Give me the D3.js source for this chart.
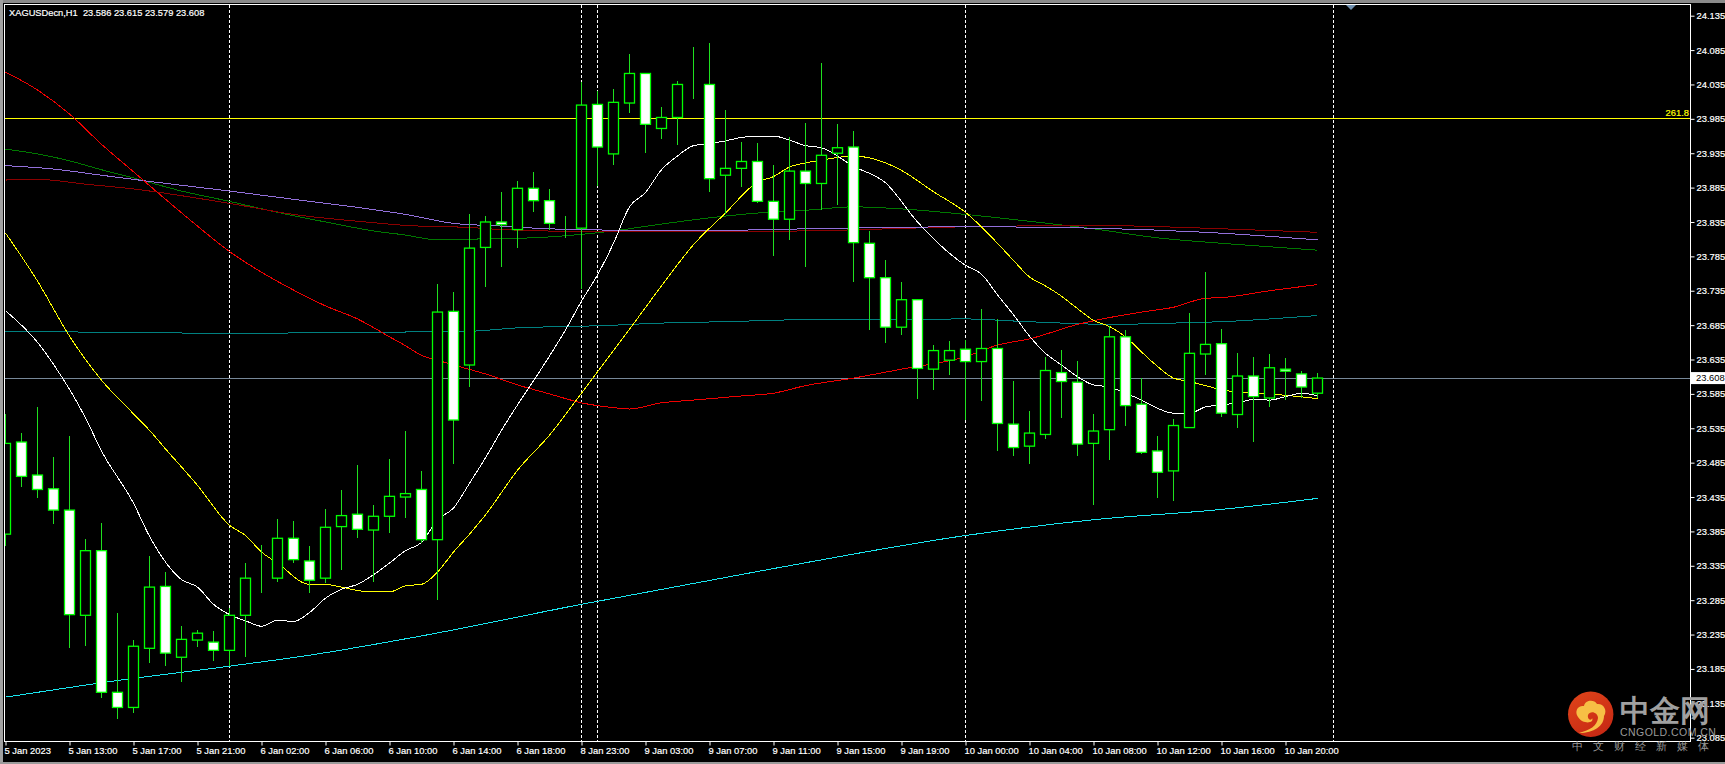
<!DOCTYPE html>
<html><head><meta charset="utf-8">
<script src="https://cdn.jsdelivr.net/npm/d3@7"></script>
<style>
html,body{margin:0;padding:0;background:#000;overflow:hidden}
svg{display:block}
text{font-family:"Liberation Sans",Arial,sans-serif}
</style></head><body>
<svg id="c" width="1725" height="764"></svg>
<script>
const title = "XAGUSDecn,H1  23.586 23.615 23.579 23.608";
const opens = [23.381,23.515,23.467,23.447,23.416,23.263,23.357,23.151,23.129,23.215,23.305,23.202,23.227,23.224,23.212,23.263,23.317,23.317,23.375,23.342,23.317,23.392,23.410,23.387,23.407,23.435,23.446,23.373,23.705,23.627,23.798,23.835,23.824,23.884,23.866,23.834,23.826,24.006,23.934,24.008,24.051,23.971,23.987,24.035,24.035,23.903,23.913,23.923,23.865,23.839,23.909,23.891,23.935,23.944,23.804,23.754,23.682,23.722,23.621,23.634,23.650,23.632,23.651,23.541,23.509,23.526,23.616,23.602,23.513,23.533,23.668,23.570,23.502,23.473,23.536,23.643,23.658,23.555,23.611,23.579,23.621,23.614,23.586];
const highs = [23.556,23.528,23.566,23.493,23.524,23.374,23.397,23.266,23.227,23.349,23.326,23.247,23.242,23.240,23.273,23.339,23.365,23.403,23.400,23.364,23.418,23.445,23.482,23.423,23.490,23.531,23.473,23.745,23.733,23.847,23.844,23.879,23.895,23.908,23.883,23.844,24.038,24.026,24.028,24.079,24.052,24.002,24.040,24.090,24.095,23.998,23.951,23.950,23.918,23.959,23.979,24.066,23.978,23.967,23.822,23.780,23.748,23.723,23.656,23.662,23.663,23.708,23.694,23.604,23.560,23.639,23.649,23.633,23.556,23.684,23.678,23.608,23.524,23.548,23.703,23.762,23.680,23.645,23.639,23.643,23.637,23.618,23.615];
const lows = [23.364,23.450,23.433,23.396,23.216,23.219,23.143,23.112,23.121,23.194,23.190,23.166,23.217,23.196,23.189,23.202,23.295,23.311,23.339,23.296,23.310,23.329,23.376,23.312,23.382,23.405,23.368,23.285,23.483,23.595,23.741,23.770,23.797,23.850,23.824,23.812,23.738,23.887,23.918,23.994,23.936,23.955,23.947,24.014,23.879,23.846,23.886,23.863,23.785,23.809,23.770,23.852,23.860,23.748,23.678,23.659,23.670,23.577,23.591,23.613,23.547,23.575,23.502,23.495,23.483,23.520,23.550,23.494,23.423,23.489,23.539,23.498,23.434,23.429,23.535,23.613,23.552,23.535,23.515,23.566,23.576,23.579,23.579];
const closes = [23.513,23.465,23.446,23.416,23.264,23.357,23.151,23.129,23.218,23.304,23.208,23.228,23.237,23.212,23.263,23.317,23.317,23.375,23.344,23.314,23.391,23.408,23.388,23.407,23.436,23.440,23.373,23.704,23.547,23.797,23.835,23.831,23.884,23.866,23.833,23.834,24.005,23.944,24.009,24.051,23.977,23.987,24.035,24.035,23.898,23.913,23.923,23.865,23.839,23.909,23.891,23.932,23.943,23.805,23.754,23.682,23.722,23.622,23.648,23.648,23.632,23.651,23.542,23.507,23.528,23.619,23.603,23.512,23.531,23.668,23.568,23.500,23.471,23.539,23.644,23.657,23.557,23.611,23.581,23.623,23.618,23.595,23.608];

const whiteIdx = [0,2,3,5,6,8,9,11,12,13,14,15,16,17,18,19,20,21,22,23,24,25,26,27,28,29,30,31,32,33,34,35,36,37,38,39,40,41,42,43,44,45,46,47,48,49,50,51,53,55,57,60,61,62,63,64,65,66,67,68,69,70,71,72,73,74,75,76,77,78,79,80,81,82];
const whiteVal = [23.706,23.660,23.628,23.550,23.502,23.426,23.378,23.315,23.304,23.279,23.264,23.255,23.247,23.256,23.254,23.267,23.288,23.301,23.308,23.322,23.339,23.357,23.369,23.402,23.419,23.455,23.492,23.532,23.569,23.604,23.640,23.678,23.720,23.758,23.804,23.857,23.878,23.911,23.931,23.946,23.949,23.953,23.958,23.960,23.960,23.954,23.946,23.943,23.916,23.892,23.835,23.772,23.759,23.729,23.700,23.669,23.644,23.627,23.610,23.598,23.595,23.586,23.576,23.564,23.557,23.557,23.566,23.569,23.572,23.577,23.576,23.581,23.586,23.582];
const yellowIdx = [0,2,4,6,8,9,10,12,14,15,16,17,19,20,21,22,23,24,25,26,27,28,29,30,32,34,36,37,39,41,43,45,47,48,49,50,51,53,55,56,58,60,62,63,64,65,66,67,68,69,70,71,72,73,74,75,76,78,80,82];
const yellowVal = [23.819,23.749,23.669,23.605,23.556,23.532,23.505,23.452,23.394,23.379,23.355,23.339,23.308,23.308,23.304,23.299,23.297,23.297,23.306,23.308,23.326,23.355,23.381,23.409,23.474,23.525,23.586,23.617,23.679,23.742,23.802,23.848,23.893,23.901,23.915,23.921,23.925,23.931,23.921,23.910,23.879,23.849,23.804,23.779,23.755,23.742,23.727,23.709,23.692,23.683,23.668,23.646,23.625,23.608,23.603,23.597,23.591,23.586,23.583,23.578];
const redIdx = [0,2,4,6,8,10,12,14,16,18,20,22,24,25,26,27,28,30,32,34,36,38,39,41,43,46,48,50,53,56,60,62,64,67,69,71,73,75,76,79,82];
const redVal = [24.053,24.027,23.992,23.948,23.908,23.868,23.829,23.792,23.762,23.736,23.713,23.694,23.668,23.655,23.641,23.634,23.627,23.614,23.598,23.585,23.572,23.565,23.563,23.572,23.576,23.582,23.586,23.597,23.608,23.621,23.639,23.656,23.665,23.686,23.696,23.704,23.711,23.724,23.725,23.735,23.744];
const tealIdx = [0,14,20,25,29,32,35,37,41,45,50,60,63,66,69,73,76,82];
const tealVal = [23.676,23.673,23.674,23.675,23.676,23.681,23.683,23.684,23.688,23.690,23.693,23.694,23.691,23.688,23.686,23.688,23.690,23.699];
const cyanIdx = [0,6,14,19,26,36,48,60,68,76,82];
const cyanVal = [23.144,23.165,23.189,23.205,23.233,23.279,23.331,23.379,23.402,23.417,23.433];
const greenIdx = [0,2,4,6,8,11,14,17,20,23,25,27,29,31,33,36,38,41,44,47,50,53,56,60,64,68,72,76,82];
const greenVal = [23.941,23.934,23.924,23.911,23.899,23.880,23.865,23.849,23.835,23.822,23.816,23.809,23.810,23.811,23.812,23.817,23.822,23.832,23.841,23.848,23.852,23.857,23.854,23.846,23.836,23.825,23.812,23.804,23.794];
const purpleIdx = [0,3,6,9,14,18,23,25,28,31,34,39,45,50,60,68,75,82];
const purpleVal = [23.917,23.912,23.903,23.894,23.880,23.868,23.853,23.846,23.833,23.829,23.825,23.823,23.823,23.825,23.828,23.826,23.820,23.809];
const maroonIdx = [0,2,5,8,14,18,23,25,29,31,37,45,50,60,68,75,82];
const maroonVal = [23.896,23.897,23.890,23.883,23.862,23.846,23.834,23.830,23.827,23.824,23.821,23.821,23.822,23.828,23.830,23.826,23.820];

const priceTicks = ["24.135","24.085","24.035","23.985","23.935","23.885","23.835","23.785","23.735","23.685","23.635","23.585","23.535","23.485","23.435","23.385","23.335","23.285","23.235","23.185","23.135","23.085"];
const timeLabels = ["5 Jan 2023","5 Jan 13:00","5 Jan 17:00","5 Jan 21:00","6 Jan 02:00","6 Jan 06:00","6 Jan 10:00","6 Jan 14:00","6 Jan 18:00","8 Jan 23:00","9 Jan 03:00","9 Jan 07:00","9 Jan 11:00","9 Jan 15:00","9 Jan 19:00","10 Jan 00:00","10 Jan 04:00","10 Jan 08:00","10 Jan 12:00","10 Jan 16:00","10 Jan 20:00"];
const timeIdx = [0,4,8,12,16,20,24,28,32,36,40,44,48,52,56,60,64,68,72,76,80];
const separators = [14,36,37,60,83];
const fibLevel = 23.985, fibLabel = "261.8", lastPrice = 23.608;

const svg = d3.select("#c");
const L=4.5,T=4.5,R=1690.5,B=741.5;
const x = d3.scaleLinear().domain([0,82]).range([5.5,1317.5]);
const y = d3.scaleLinear().domain([23.085,24.135]).range([737.7,15.7]);
const FS = 9.4;

svg.append("rect").attr("width",1725).attr("height",764).attr("fill","#000");
svg.append("rect").attr("x",0).attr("y",0).attr("width",1725).attr("height",3).attr("fill","#8a8a8a");
svg.append("rect").attr("x",0).attr("y",0).attr("width",3).attr("height",764).attr("fill","#a0a0a0");
svg.append("rect").attr("x",0).attr("y",762).attr("width",1725).attr("height",2).attr("fill","#9a9a9a");

svg.append("clipPath").attr("id","plot").append("rect").attr("x",L).attr("y",T).attr("width",R-L).attr("height",B-T);
const g = svg.append("g").attr("clip-path","url(#plot)");

g.selectAll(".sep").data(separators).join("line")
 .attr("x1",d=>x(d)).attr("x2",d=>x(d)).attr("y1",T).attr("y2",B)
 .attr("stroke","#fff").attr("stroke-width",1).attr("stroke-dasharray","3,2").attr("shape-rendering","crispEdges");

const fibY = Math.floor(y(fibLevel))+.5, lastY = Math.floor(y(lastPrice))+.5;
g.append("line").attr("x1",L).attr("x2",R).attr("y1",fibY).attr("y2",fibY)
 .attr("stroke","#ffff00").attr("stroke-width",1).attr("shape-rendering","crispEdges");
g.append("line").attr("x1",L).attr("x2",R).attr("y1",lastY).attr("y2",lastY)
 .attr("stroke","#778899").attr("stroke-width",1).attr("shape-rendering","crispEdges");

const lineGen = d3.line().x(d=>x(d[0])).y(d=>y(d[1])).curve(d3.curveMonotoneX);
const series = [
 [cyanIdx,cyanVal,"#19e6f0"],
 [tealIdx,tealVal,"#008080"],
 [greenIdx,greenVal,"#007800"],
 [maroonIdx,maroonVal,"#8b0000"],
 [purpleIdx,purpleVal,"#9370db"],
 [redIdx,redVal,"#f00000"],
 [yellowIdx,yellowVal,"#ffff00"],
 [whiteIdx,whiteVal,"#ffffff"]
];
series.forEach(([ix,v,c])=>{
  g.append("path").datum(ix.map((a,k)=>[a,v[k]])).attr("d",lineGen).attr("fill","none").attr("stroke",c).attr("stroke-width",1).attr("shape-rendering","crispEdges");
});

const candles = opens.map((o,i)=>({i,o,h:highs[i],l:lows[i],c:closes[i]}));
const cg = g.selectAll(".candle").data(candles).join("g");
cg.append("line").attr("x1",d=>x(d.i)).attr("x2",d=>x(d.i)).attr("y1",d=>y(d.h)).attr("y2",d=>y(d.l))
  .attr("stroke","#1fe01f").attr("stroke-width",1).attr("shape-rendering","crispEdges");
cg.append("rect").attr("x",d=>x(d.i)-5).attr("width",10)
  .attr("y",d=>y(Math.max(d.o,d.c))).attr("height",d=>Math.abs(y(d.o)-y(d.c)))
  .attr("fill",d=>d.c>=d.o?"#000":"#fff").attr("stroke","#00ff00").attr("stroke-width",1.3);

svg.append("rect").attr("x",L).attr("y",T).attr("width",R-L).attr("height",B-T).attr("fill","none").attr("stroke","#fff").attr("stroke-width",1);

const strongText = s => s.attr("stroke","currentColor").attr("stroke-width",0.2);

const yAxis = d3.axisRight(y).tickValues(priceTicks.map(Number)).tickFormat(d=>d3.format(".3f")(d)).tickSize(4).tickPadding(2);
const ya = svg.append("g").attr("transform",`translate(${R},0)`).call(yAxis);
ya.select(".domain").remove();
ya.selectAll("line").attr("stroke","#fff");
ya.selectAll("text").attr("fill","#fff").attr("color","#fff").attr("font-size",FS).attr("font-family","Liberation Sans").call(strongText);

const xAxis = d3.axisBottom(x).tickValues(timeIdx).tickFormat((d,k)=>timeLabels[k]).tickSize(4).tickPadding(2);
const xa = svg.append("g").attr("transform",`translate(0,${B})`).call(xAxis);
xa.select(".domain").remove();
xa.selectAll("line").attr("stroke","#fff");
xa.selectAll("text").attr("fill","#fff").attr("color","#fff").attr("font-size",FS).attr("font-family","Liberation Sans").attr("text-anchor","start").attr("dx",-1.5).call(strongText);

svg.append("text").attr("x",9).attr("y",16).attr("fill","#fff").attr("color","#fff").attr("font-size",FS-0.1).attr("xml:space","preserve").text(title).call(strongText);
svg.append("text").attr("x",1689).attr("y",fibY-2.5).attr("fill","#ffff00").attr("color","#ffff00").attr("font-size",FS).attr("text-anchor","end").text(fibLabel).call(strongText);

svg.append("rect").attr("x",1691).attr("y",y(lastPrice)-6).attr("width",34).attr("height",12).attr("fill","#fff");
svg.append("text").attr("x",1696).attr("y",y(lastPrice)+3.4).attr("fill","#000").attr("font-size",FS).text(d3.format(".3f")(lastPrice));

svg.append("path").attr("d","M1346,5 L1356,5 L1351,10 Z").attr("fill","#6f8fae");

const defs = svg.append("defs");
const lg = defs.append("linearGradient").attr("id","lg").attr("x1",0).attr("x2",0.6).attr("y1",0).attr("y2",1);
lg.append("stop").attr("offset","0").attr("stop-color","#e0451a");
lg.append("stop").attr("offset","1").attr("stop-color","#c82a14");
svg.append("circle").attr("cx",1590.7).attr("cy",714.3).attr("r",22.7).attr("fill","url(#lg)");
svg.append("path").attr("d","M1578,717 C1574,711 1578,705 1584,706 C1585,700 1594,699 1597,704 C1603,703 1608,710 1604,716 C1604,726 1594,733 1579,733 C1590,730 1597,726 1598,718 C1598,712 1590,710 1588,715 C1587,720 1592,721 1592,718 C1595,723 1583,725 1578,717 Z").attr("fill","#f7bf45");
const wm = svg.append("g").attr("fill","#9a9a9a");
wm.append("text").attr("x",1620).attr("y",721).attr("font-family","Noto Sans CJK SC").attr("font-weight",700).attr("font-size",30).attr("fill","#a0a0a0").text("中金网");
wm.append("text").attr("x",1620).attr("y",736).attr("font-size",10.5).attr("letter-spacing",0.45).text("CNGOLD.COM.CN");
wm.append("text").attr("x",1572).attr("y",750).attr("font-family","Noto Sans CJK SC").attr("font-size",11).attr("letter-spacing",10).text("中文财经新媒体");
</script>
</body></html>
